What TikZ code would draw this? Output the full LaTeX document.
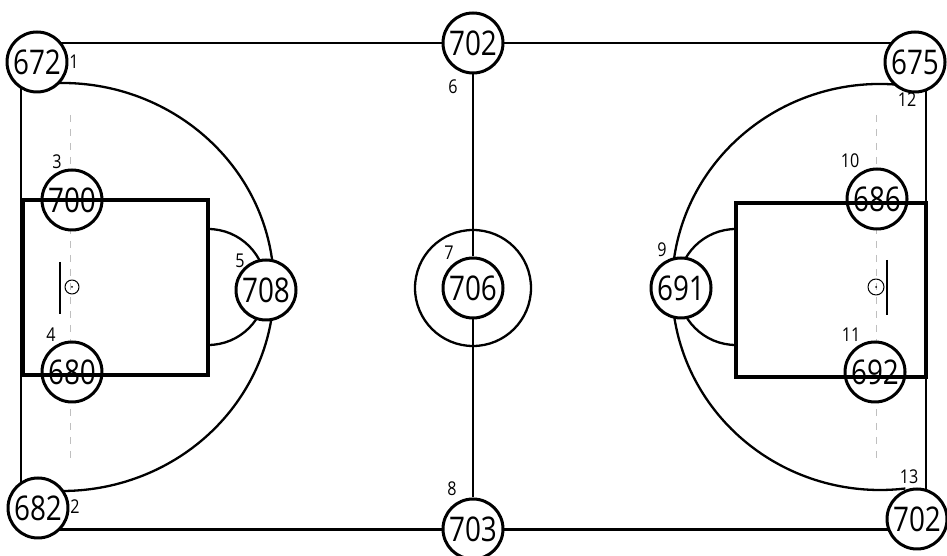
\documentclass[tikz,border=0pt]{standalone}
\usepackage{fontspec}
\setmainfont{Open Sans}
\newcommand{\bignum}[1]{\scalebox{0.82}[1]{\fontsize{34}{34}\selectfont #1}}
\newcommand{\smallnum}[1]{\scalebox{0.85}[1]{\fontsize{19}{19}\selectfont #1}}
\tikzset{
	player/.style={circle,draw,fill=white,line width=3pt,minimum size=60pt,inner sep=0pt},
	posnum/.style={inner sep=0pt},
	court/.style={line width=2.3pt},
	keybox/.style={line width=4pt,line join=miter},
	guide/.style={dashed,gray!50,line width=1pt,dash pattern=on 7pt off 7pt}
}
\begin{document}
\begin{tikzpicture}[x=1pt,y=1pt,line join=round]
	\useasboundingbox (0,0) rectangle (947,556);
	\coordinate (cTL) at (21,513);
	\coordinate (cBR) at (926,26.5);
	\coordinate (arcL) at (62,269);
	\coordinate (arcR) at (880,269);
	\draw[court] (cTL) rectangle (cBR);
	% three point lines
	\draw[court] (arcL) ++(95:212 and 204) arc[start angle=95,end angle=-95,x radius=212,y radius=204];
	\draw[court] (arcR) ++(82:208 and 203) arc[start angle=82,end angle=277,x radius=208,y radius=203];
	% free throw arcs and centre circle
	\draw[court] (208,327) arc[start angle=90,end angle=-90,radius=58];
	\draw[court] (736,327) arc[start angle=90,end angle=270,radius=58];
	\draw[court] (473,268) circle(58);
	\draw[guide] (70,441)--(70,91);
	\draw[guide] (876,441)--(876,91);
	% baskets
	\draw[line width=1.2pt] (60,294)--(60,242);
	\draw[line width=1pt] (72,269) circle(7);
	\fill (72,269) circle(1pt);
	\draw[line width=1.2pt] (887,296)--(887,241);
	\draw[line width=1pt] (876,269) circle(8);
	\fill (876,269) circle(1pt);
	% players
	\foreach \n/\x/\y/\t in {a/37/494/672,b/473/513/702,c/915/494/675,d/72/356/700,e/72/184/680,f/266/266/708,g/473/268/706,h/681/268/691,i/877/357/686,j/875/184/692,k/38/48/682,l/473/27/703,m/917/37/702}{
		\node[player] (p\n) at (\x,\y) {\bignum{\t}};}
	\draw[line width=2.8pt] (pb)--(pg);
	\draw[line width=2.8pt] (pg)--(pl);
	\draw[keybox] (22.5,356) rectangle (208,181);
	\draw[keybox] (736,353) rectangle (926,179);
	% position numbers
	\foreach \n/\x/\y in {1/74/494,2/75/49,3/57/394,4/51/221,5/240/295,6/453/469,7/449/303,8/452/67,9/662/306,10/850/395,11/851/221,12/907/456,13/909/79}{
		\node[posnum] (n\n) at (\x,\y) {\smallnum{\n}};}
\end{tikzpicture}
\end{document}
